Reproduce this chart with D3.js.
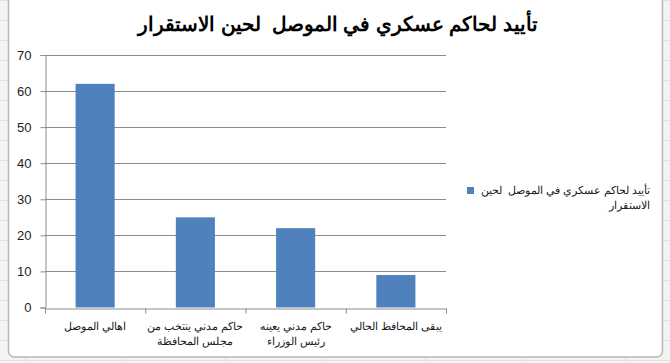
<!DOCTYPE html>
<html lang="ar">
<head>
<meta charset="UTF-8">
<title>تأييد لحاكم عسكري في الموصل لحين الاستقرار</title>
<script src="https://d3js.org/d3.v7.min.js"></script>
<style>
  body { margin: 0; background: #fff; }
  svg { display: block; }
</style>
</head>
<body>
<svg width="670" height="363"></svg>
<script>
// data
const categories = ["اهالي الموصل", "حاكم مدني ينتخب من|مجلس المحافظة", "حاكم مدني يعينه|رئيس الوزراء", "يبقى المحافظ الحالي"];
const values = [62, 25, 22, 9];
const yTicks = [0, 10, 20, 30, 40, 50, 60, 70];
const title = "تأييد لحاكم عسكري في الموصل \u00A0لحين الاستقرار";
const legendLines = ["تأييد لحاكم عسكري في الموصل \u00A0لحين", "الاستقرار"];

const svg = d3.select("svg");
const W = 670, H = 363;
const font = "Arial, 'Liberation Sans', sans-serif";

// spreadsheet behind the chart
const sheet = svg.append("g");
sheet.append("rect").attr("x", 0).attr("y", 0).attr("width", W).attr("height", H).attr("fill", "#f4f4f4");
sheet.selectAll(".row").data(d3.range(0, H, 20)).enter().append("line")
    .attr("x1", 0).attr("x2", W).attr("y1", d => d + 0.5).attr("y2", d => d + 0.5)
    .attr("stroke", "#e2e2e2");
sheet.selectAll(".col").data(d3.range(25, W, 100)).enter().append("line")
    .attr("y1", 0).attr("y2", H).attr("x1", d => d + 0.5).attr("x2", d => d + 0.5)
    .attr("stroke", "#e2e2e2");

// chart frame
svg.append("rect")
    .attr("x", 8.5).attr("y", -6).attr("width", 654).attr("height", 363)
    .attr("rx", 6)
    .attr("fill", "#fff").attr("stroke", "#b8b8b8").attr("stroke-width", 1.5);

// title
svg.append("text")
    .attr("x", 338).attr("y", 31)
    .attr("text-anchor", "middle")
    .attr("direction", "rtl")
    .attr("font-family", font)
    .attr("font-size", 20).attr("font-weight", "bold")
    .attr("fill", "#000")
    .text(title);

const margin = { left: 45, right: 446, top: 55, bottom: 307.5 };

const x = d3.scaleBand().domain(categories).range([margin.left, margin.right]).paddingInner(0.61).paddingOuter(0.305);
const xBound = d3.scaleLinear().domain([0, categories.length]).range([margin.left, margin.right]);
const y = d3.scaleLinear().domain([0, 70]).range([margin.bottom, margin.top]);

// gridlines
svg.append("g").selectAll("line").data(yTicks.filter(d => d > 0)).enter().append("line")
    .attr("x1", margin.left).attr("x2", margin.right)
    .attr("y1", d => Math.round(y(d)) + 0.5).attr("y2", d => Math.round(y(d)) + 0.5)
    .attr("stroke", "#8c8c8c").attr("stroke-width", 1);

// bars
svg.append("g").selectAll("rect").data(values).enter().append("rect")
    .attr("x", (d, i) => x(categories[i]))
    .attr("y", d => y(d))
    .attr("width", x.bandwidth())
    .attr("height", d => y(0) - y(d))
    .attr("fill", "#4f81bd");

// y axis
const yAxis = svg.append("g")
    .attr("transform", `translate(${margin.left + 0.5},0)`)
    .call(d3.axisLeft(y).tickValues(yTicks).tickSize(5).tickPadding(9));
yAxis.select(".domain").attr("stroke", "#8c8c8c");
yAxis.selectAll(".tick line").attr("stroke", "#8c8c8c");
yAxis.selectAll("text")
    .attr("font-family", font)
    .attr("font-size", 13).attr("fill", "#1a1a2a");

// x axis
const xAxis = svg.append("g")
    .attr("transform", `translate(0,${Math.round(margin.bottom) + 0.5})`)
    .call(d3.axisBottom(xBound).tickValues(d3.range(0, categories.length + 1)).tickSize(5).tickFormat(""));
xAxis.select(".domain").attr("stroke", "#8c8c8c");
xAxis.selectAll(".tick line").attr("stroke", "#8c8c8c");

// category labels
const labels = svg.append("g").selectAll("text").data(categories).enter().append("text")
    .attr("x", d => x(d) + x.bandwidth() / 2)
    .attr("y", 330)
    .attr("text-anchor", "middle")
    .attr("direction", "rtl")
    .attr("font-family", font)
    .attr("font-size", 11).attr("fill", "#1a1a1a");
labels.each(function(d) {
    const parts = d.split("|");
    d3.select(this).selectAll("tspan").data(parts).enter().append("tspan")
        .attr("x", x(d) + x.bandwidth() / 2)
        .attr("dy", (p, i) => i === 0 ? 0 : 15)
        .text(p => p);
});

// legend
svg.append("rect")
    .attr("x", 467).attr("y", 187).attr("width", 7).attr("height", 7)
    .attr("fill", "#4f81bd");
svg.append("g").selectAll("text").data(legendLines).enter().append("text")
    .attr("x", 650)
    .attr("y", (d, i) => 194 + i * 15)
    .attr("text-anchor", "start")
    .attr("direction", "rtl")
    .attr("font-family", font)
    .attr("font-size", 11).attr("fill", "#1a1a1a")
    .text(d => d);
</script>
</body>
</html>
